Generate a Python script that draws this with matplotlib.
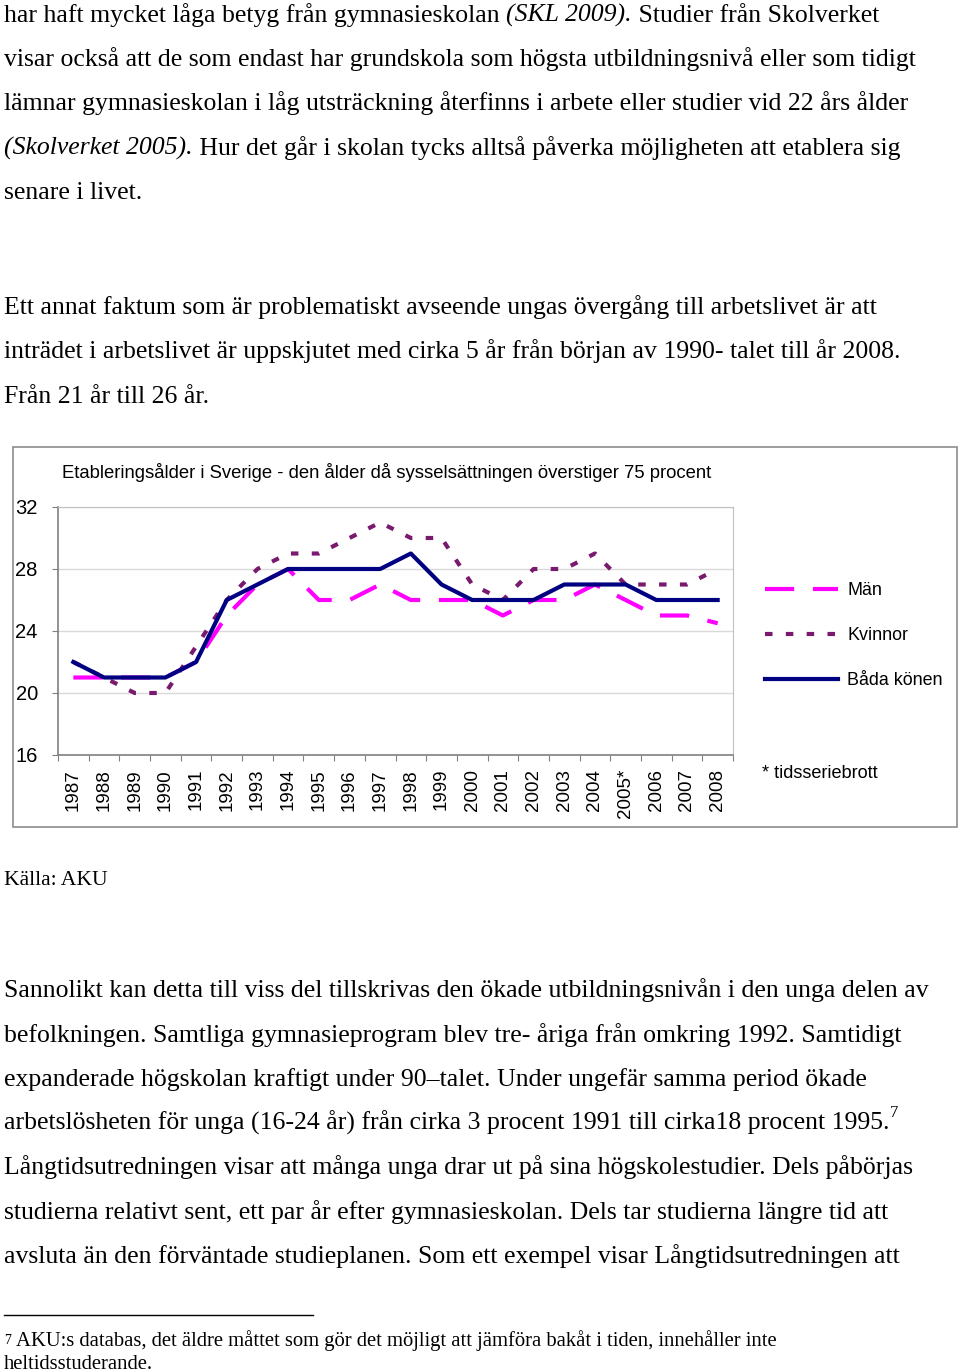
import matplotlib
matplotlib.use('Agg')
import matplotlib.pyplot as plt
from matplotlib.patches import Rectangle

# data
years = ['1987', '1988', '1989', '1990', '1991', '1992', '1993', '1994', '1995', '1996', '1997',
         '1998', '1999', '2000', '2001', '2002', '2003', '2004', '2005*', '2006', '2007', '2008']
man = [21, 21, 21, 21, 22, 25, 27, 28, 26, 26, 27, 26, 26, 26, 25, 26, 26, 27, 26, 25, 25, 24.5]
kvinnor = [22, 21, 20, 20, 23, 26, 28, 29, 29, 30, 31, 30, 30, 27, 26, 28, 28, 29, 27, 27, 27, 28]
bada = [22, 21, 21, 21, 22, 26, 27, 28, 28, 28, 28, 29, 27, 26, 26, 26, 27, 27, 27, 26, 26, 26]
yticks = [16, 20, 24, 28, 32]

title = 'Etableringsålder i Sverige - den ålder då sysselsättningen överstiger 75 procent'

text_top = [
    [('har haft mycket låga betyg från gymnasieskolan ', 'normal'), ('(SKL 2009).', 'italic'),
     (' Studier från Skolverket', 'normal')],
    [('visar också att de som endast har grundskola som högsta utbildningsnivå eller som tidigt', 'normal')],
    [('lämnar gymnasieskolan i låg utsträckning återfinns i arbete eller studier vid 22 års ålder', 'normal')],
    [('(Skolverket 2005).', 'italic'),
     (' Hur det går i skolan tycks alltså påverka möjligheten att etablera sig', 'normal')],
    [('senare i livet.', 'normal')],
    [('Ett annat faktum som är problematiskt avseende ungas övergång till arbetslivet är att', 'normal')],
    [('inträdet i arbetslivet är uppskjutet med cirka 5 år från början av 1990- talet till år 2008.', 'normal')],
    [('Från 21 år till 26 år.', 'normal')],
]
top_y = [22, 66, 110, 155, 199, 314, 358, 403]

text_bottom = [
    'Sannolikt kan detta till viss del tillskrivas den ökade utbildningsnivån i den unga delen av',
    'befolkningen. Samtliga gymnasieprogram blev tre- åriga från omkring 1992. Samtidigt',
    'expanderade högskolan kraftigt under 90–talet. Under ungefär samma period ökade',
    'arbetslösheten för unga (16-24 år) från cirka 3 procent 1991 till cirka18 procent 1995.',
    'Långtidsutredningen visar att många unga drar ut på sina högskolestudier. Dels påbörjas',
    'studierna relativt sent, ett par år efter gymnasieskolan. Dels tar studierna längre tid att',
    'avsluta än den förväntade studieplanen. Som ett exempel visar Långtidsutredningen att',
]
bottom_y = [997, 1042, 1086, 1130, 1174, 1219, 1263]

footnote = ['AKU:s databas, det äldre måttet som gör det möjligt att jämföra bakåt i tiden, innehåller inte',
            'heltidsstuderande.']

W, H = 960, 1372
fig = plt.figure(figsize=(W / 100, H / 100), dpi=100)

# page axes in pixel coordinates
page = fig.add_axes([0, 0, 1, 1])
page.set_xlim(0, W)
page.set_ylim(H, 0)
page.axis('off')

serif = 'Liberation Serif'
sans = 'Liberation Sans'
body_size = 18.55


def chained_line(x, y, parts, size):
    prev = None
    for s, style in parts:
        if prev is None:
            prev = page.text(x, y, s, fontsize=size, family=serif, style=style, va='baseline')
        else:
            prev = page.annotate(s, xy=(1, 0), xycoords=prev, fontsize=size, family=serif,
                                 style=style, va='bottom')
    return prev


for parts, y in zip(text_top, top_y):
    chained_line(4, y, parts, body_size)

page.text(4, 885, 'Källa: AKU', fontsize=15.6, family=serif, va='baseline')

for i, (s, y) in enumerate(zip(text_bottom, bottom_y)):
    t = page.text(4, y, s, fontsize=body_size, family=serif, va='baseline')
    if i == 3:
        page.annotate('7', xy=(1, 0.6), xycoords=t, fontsize=12, family=serif, va='bottom')

# footnote
page.plot([4, 313], [1315, 1315], color='black', lw=1)
page.text(4, 1344, '7', fontsize=10, family=serif, va='baseline')
page.text(16, 1346, footnote[0], fontsize=14.9, family=serif, va='baseline')
page.text(4, 1369, footnote[1], fontsize=14.9, family=serif, va='baseline')

# chart frame
page.add_patch(Rectangle((13, 447), 944, 380, fill=False, edgecolor='#8c8c8c', lw=1.2))

# chart axes
ax = fig.add_axes([58 / W, 1 - 755 / H, (733 - 58) / W, (755 - 507) / H])
x = list(range(len(years)))
ax.plot(x, man, color='#ff00ff', lw=3.0, dashes=(7, 4.5), label='Män')
ax.plot(x, kvinnor, color='#7a1a6e', lw=3.0, dashes=(1.8, 3.2), label='Kvinnor')
ax.plot(x, bada, color='#000080', lw=3.0, label='Båda könen')

ax.set_xlim(-0.5, len(years) - 0.5)
ax.set_ylim(16, 32)
ax.set_yticks(yticks)
ax.set_yticklabels([str(v) for v in yticks], family=sans, fontsize=14.5)
ax.set_xticks([i - 0.5 for i in range(len(years) + 1)], minor=False)
ax.set_xticklabels([])
ax.set_xticks(x, minor=True)
ax.set_xticklabels(years, minor=True, rotation=90, family=sans, fontsize=13.5)
ax.tick_params(axis='x', which='minor', length=0, pad=10)
ax.tick_params(axis='x', which='major', length=4, color='#808080', direction='out')
ax.tick_params(axis='y', length=4, color='#808080', pad=10.5)
ax.grid(axis='y', color='#d9d9d9', lw=1)
for side in ['top', 'right']:
    ax.spines[side].set_color('#c0c0c0')
for side in ['left', 'bottom']:
    ax.spines[side].set_color('#808080')
    ax.spines[side].set_linewidth(1.2)

page.text(62, 478, title, family=sans, fontsize=13.3, va='baseline')

leg = ax.legend(loc='upper left', bbox_to_anchor=(765 / W, 1 - 582 / H), bbox_transform=fig.transFigure,
                frameon=False, prop={'family': sans, 'size': 12.9}, handlelength=4.08,
                labelspacing=1.56, handletextpad=0.5, borderpad=0, borderaxespad=0)
page.text(762, 778, '* tidsseriebrott', family=sans, fontsize=13.1, va='baseline')

fig.savefig('out.png', dpi=100)
